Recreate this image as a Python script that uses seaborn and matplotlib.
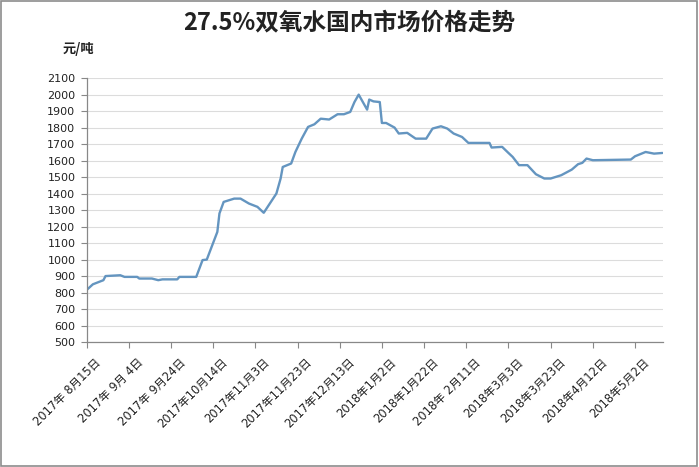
import pandas as pd
import numpy as np
import seaborn as sns
import matplotlib.pyplot as plt
import matplotlib.transforms as mtrans
from matplotlib.patches import Rectangle

# price data (yuan / ton)
dates = ['2017-08-15', '2017-08-18', '2017-08-23', '2017-08-24', '2017-08-31', '2017-09-02',
         '2017-09-08', '2017-09-09', '2017-09-15', '2017-09-18', '2017-09-20', '2017-09-27',
         '2017-09-28', '2017-10-06', '2017-10-09', '2017-10-11', '2017-10-16', '2017-10-17',
         '2017-10-19', '2017-10-24', '2017-10-27', '2017-10-31', '2017-11-04', '2017-11-07',
         '2017-11-13', '2017-11-15', '2017-11-16', '2017-11-20', '2017-11-22', '2017-11-25',
         '2017-11-28', '2017-12-01', '2017-12-04', '2017-12-08', '2017-12-12', '2017-12-15',
         '2017-12-18', '2017-12-20', '2017-12-22', '2017-12-26', '2017-12-27', '2017-12-29',
         '2018-01-01', '2018-01-02', '2018-01-04', '2018-01-08', '2018-01-10', '2018-01-14',
         '2018-01-18', '2018-01-23', '2018-01-26', '2018-01-30', '2018-02-02', '2018-02-05',
         '2018-02-09', '2018-02-12', '2018-02-22', '2018-02-23', '2018-02-28', '2018-03-03',
         '2018-03-05', '2018-03-08', '2018-03-12', '2018-03-16', '2018-03-20', '2018-03-23',
         '2018-03-28', '2018-04-02', '2018-04-05', '2018-04-07', '2018-04-09', '2018-04-12',
         '2018-04-30', '2018-05-02', '2018-05-07', '2018-05-11', '2018-05-15']
prices = [815, 850, 875, 900, 905, 895,
          895, 885, 885, 875, 880, 880,
          895, 895, 997, 1000, 1168, 1280,
          1350, 1370, 1370, 1340, 1320, 1284,
          1401, 1492, 1562, 1583, 1653, 1734,
          1805, 1821, 1855, 1850, 1882, 1882,
          1896, 1956, 2001, 1910, 1971, 1960,
          1956, 1829, 1829, 1801, 1765, 1769,
          1734, 1734, 1795, 1809, 1795, 1765,
          1744, 1708, 1708, 1680, 1684, 1647,
          1623, 1573, 1573, 1518, 1492, 1492,
          1512, 1546, 1579, 1587, 1613, 1603,
          1607, 1627, 1653, 1643, 1647]

tick_labels = ['2017年 8月15日', '2017年 9月 4日', '2017年 9月24日', '2017年10月14日',
               '2017年11月3日', '2017年11月23日', '2017年12月13日', '2018年1月2日',
               '2018年1月22日', '2018年 2月11日', '2018年3月3日', '2018年3月23日',
               '2018年4月12日', '2018年5月2日']

df = pd.DataFrame({'date': pd.to_datetime(dates), 'price': prices})

sns.set_style('white')
plt.rcParams['font.family'] = ['Noto Sans CJK SC', 'DejaVu Sans']
tick_font = ['DejaVu Sans', 'Noto Sans CJK SC']

fig = plt.figure(figsize=(6.99, 4.67), dpi=100)
ax = fig.add_axes([0.1238, 0.2677, 0.8247, 0.5646])

sns.lineplot(data=df, x='date', y='price', ax=ax, color='#6495c0', linewidth=1.7)

ax.set_ylim(500, 2100)
yt = list(range(500, 2101, 100))
ax.set_yticks(yt)
ax.set_yticklabels([str(v) for v in yt], fontfamily=tick_font, fontsize=8)
ax.set_xlim(pd.Timestamp('2017-08-15'), pd.Timestamp('2018-05-15 06:00'))
ticks = pd.date_range('2017-08-15', periods=len(tick_labels), freq='20D')
ax.set_xticks(ticks)
ax.set_xticklabels(tick_labels, rotation=45, ha='right', rotation_mode='anchor',
                   fontfamily=tick_font, fontsize=8.3)

ax.grid(axis='y', color='#dcdcdc', linewidth=0.8)
ax.set_axisbelow(True)
for s in ['top', 'right']:
    ax.spines[s].set_visible(False)
for s in ['left', 'bottom']:
    ax.spines[s].set_color('#888888')
    ax.spines[s].set_linewidth(0.9)
ax.tick_params(axis='both', direction='out', length=4, width=0.8, color='#888888',
               labelcolor='#222222', left=True, bottom=True)
ax.tick_params(axis='y', pad=4)
ax.tick_params(axis='x', pad=6)
# nudge the rotated date labels to the right, as in the original
shift = mtrans.ScaledTranslation(8 / 100, 0, fig.dpi_scale_trans)
for lab in ax.get_xticklabels():
    lab.set_transform(lab.get_transform() + shift)
ax.set_xlabel('')
ax.set_ylabel('')

fig.text(0.5, 0.953, '27.5%双氧水国内市场价格走势', ha='center', va='center',
         fontsize=17, fontweight='bold', color='#222222')
fig.text(0.09, 0.895, '元/吨', ha='left', va='center', fontsize=9.5,
         fontweight='bold', color='#222222')

# outer frame
fig.add_artist(Rectangle((0.002, 0.003), 0.995, 0.994, transform=fig.transFigure,
                         fill=False, edgecolor='#8c8c8c', linewidth=1.2))

fig.savefig('out.png', dpi=100, facecolor='white')
